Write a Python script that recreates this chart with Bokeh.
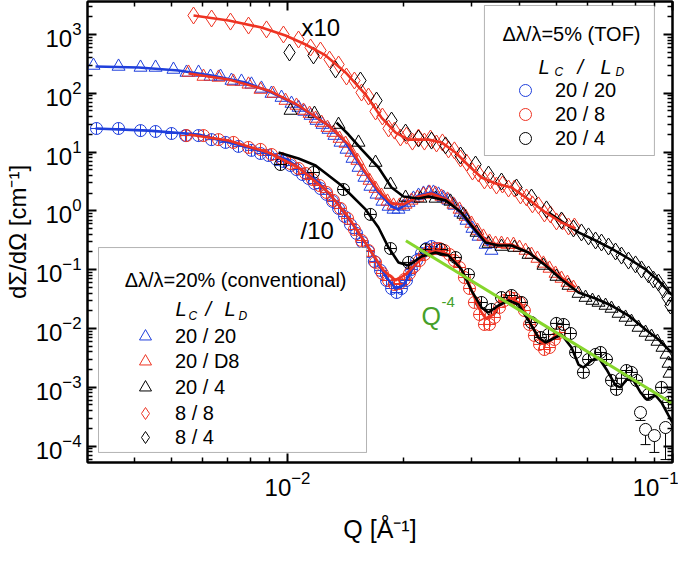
from bokeh.plotting import figure
from bokeh.models import (Range1d, FixedTicker, LogAxis, Legend, LegendItem, BoxAnnotation,
                          Label, ColumnDataSource, Whisker, TeeHead, CustomJSTickFormatter)
from bokeh.embed import file_html
from bokeh.resources import INLINE

# ---------------- data ----------------
# conventional, 8/8 (x10)  red diamonds
conv_8_8_q = [0.00570, 0.00635, 0.00711, 0.00792, 0.00882, 0.00976, 0.01068, 0.01148, 0.01218, 0.01286,
              0.01357, 0.01423, 0.01492, 0.01557, 0.01623, 0.01693, 0.01764, 0.01830, 0.01896, 0.01965,
              0.02037, 0.02111, 0.02189, 0.02268, 0.02352, 0.02438, 0.02526, 0.02619, 0.02713, 0.02814,
              0.02917, 0.03023, 0.03134, 0.03247, 0.03367, 0.03490, 0.03617, 0.03750, 0.03885, 0.04029,
              0.04176, 0.04327, 0.04487, 0.04649, 0.04820, 0.04996, 0.05178, 0.05369, 0.05562]
conv_8_8_i = [2103, 1870, 1660, 1420, 1220, 1000, 822, 601, 534, 375,
              309, 193, 165, 103, 88.1, 49.1, 40.3, 25.2, 23.2, 17.7,
              19.1, 15.1, 17.7, 15.1, 17.0, 14.0, 14.6, 11.1, 10.7, 7.78,
              6.65, 4.67, 4.33, 3.29, 3.29, 2.70, 2.81, 2.40, 2.40, 1.83,
              1.69, 1.29, 1.24, 0.904, 0.870, 0.661, 0.661, 0.543, 0.543]
# conventional, 8/4 (x10)  black diamonds
conv_8_4_q = [0.01012, 0.01168, 0.01333, 0.01547, 0.01703, 0.01863, 0.02026, 0.02189, 0.02366, 0.02573,
              0.02814, 0.03079, 0.03327, 0.03596, 0.03934, 0.04302, 0.04707, 0.05148, 0.05530, 0.05802,
              0.06051, 0.06311, 0.06540, 0.06819, 0.07112, 0.07370, 0.07686, 0.08017, 0.08307, 0.08663,
              0.08923, 0.09196, 0.09472, 0.09702, 0.09880]
conv_8_4_i = [494, 440, 254, 165, 75.3, 34.4, 21.5, 17.0, 15.7, 13.0,
              8.75, 6.15, 4.16, 3.16, 2.50, 1.69, 1.06, 0.687, 0.502, 0.43,
              0.368, 0.314, 0.29, 0.248, 0.204, 0.174, 0.143, 0.123, 0.101, 0.0829,
              0.0681, 0.0605, 0.0460, 0.0336, 0.0246]
# conventional, 20/20  blue triangles
conv_20_20_q = [0.003133, 0.003640, 0.004151, 0.004542, 0.005055, 0.005466, 0.005873, 0.006309, 0.006697, 0.007152,
                0.007593, 0.008061, 0.008557, 0.009086, 0.009647, 0.01024, 0.01068, 0.01106, 0.01148, 0.01190,
                0.01233, 0.01278, 0.01324, 0.01373, 0.01423, 0.01475, 0.01529, 0.01584, 0.01642, 0.01703,
                0.01764, 0.01830, 0.01885, 0.01942, 0.02000, 0.02062, 0.02124, 0.02189, 0.02255, 0.02324,
                0.02394, 0.02467, 0.02541, 0.02619, 0.02713, 0.02814, 0.02917, 0.03023, 0.03134, 0.03269,
                0.03387]
conv_20_20_i = [297, 286, 275, 275, 254, 226, 226, 193, 193, 165,
                159, 142, 121, 99.1, 84.7, 67.1, 57.4, 49.1, 41.9, 34.4,
                29.4, 24.2, 19.1, 14.6, 11.1, 7.78, 5.47, 3.70, 2.60, 1.91,
                1.45, 1.19, 1.06, 1.06, 1.19, 1.39, 1.63, 1.83, 1.98, 2.06,
                2.06, 1.91, 1.69, 1.51, 1.24, 0.94, 0.687, 0.502, 0.368, 0.268,
                0.212]
# conventional, 20/D8  red triangles
conv_20_D8_q = [0.005532, 0.006049, 0.006618, 0.007237, 0.007918, 0.008507, 0.009193, 0.00988, 0.01055, 0.01100,
                0.01141, 0.01183, 0.01226, 0.01270, 0.01316, 0.01365, 0.01415, 0.01466, 0.01519, 0.01575,
                0.01633, 0.01693, 0.01754, 0.01818, 0.01885, 0.01954, 0.02026, 0.02099, 0.02175, 0.02255,
                0.02338, 0.02424, 0.02511, 0.02603, 0.02698, 0.02798, 0.02901, 0.03005, 0.03114, 0.03228,
                0.03347, 0.03470, 0.03596, 0.03726, 0.03863, 0.04005, 0.04152, 0.04302, 0.04458, 0.04622,
                0.04792, 0.04968, 0.05148, 0.05335, 0.05530]
conv_20_D8_i = [226, 193, 186, 159, 142, 116, 99.1, 75.3, 62.1, 51.0,
                45.3, 37.3, 31.8, 26.1, 21.5, 17.0, 14.0, 9.84, 7.19, 4.67,
                3.29, 2.40, 1.83, 1.45, 1.24, 1.24, 1.29, 1.51, 1.69, 1.91,
                2.06, 1.98, 1.76, 1.57, 1.29, 1.06, 0.804, 0.611, 0.464, 0.368,
                0.302, 0.279, 0.279, 0.268, 0.268, 0.238, 0.212, 0.181, 0.155, 0.128,
                0.105, 0.0862, 0.0709, 0.0605, 0.0497]
# conventional, 20/4  black triangles
conv_20_4_q = [0.01018, 0.01175, 0.01357, 0.01529, 0.01693, 0.01852, 0.02026, 0.02215, 0.02424, 0.02650,
               0.02864, 0.03097, 0.03327, 0.03596, 0.03885, 0.04226, 0.04622, 0.04996, 0.05369, 0.05699,
               0.05944, 0.06196, 0.06424, 0.06700, 0.06942, 0.07240, 0.07551, 0.07824, 0.08160, 0.08511,
               0.08819, 0.09140, 0.09417, 0.09647, 0.09763, 0.09822]
conv_20_4_i = [51.0, 45.3, 29.4, 14.6, 6.65, 2.81, 1.69, 1.63, 1.63, 1.45,
               0.870, 0.43, 0.279, 0.248, 0.238, 0.181, 0.118, 0.0766, 0.0538, 0.0393,
               0.0336, 0.0299, 0.0277, 0.0246, 0.0219, 0.0180, 0.0154, 0.0131, 0.0104, 0.00855,
               0.00731, 0.00601, 0.00475, 0.00362, 0.00254, 0.00172]
# TOF, 20/20 (/10)  blue circles
tof_20_20_q = [0.003190, 0.003640, 0.004151, 0.004542, 0.004996, 0.005435, 0.005873, 0.006346, 0.006903, 0.007459,
               0.008061, 0.008507, 0.008925, 0.009362, 0.00976, 0.01018, 0.01055, 0.01094, 0.01134, 0.01175,
               0.01218, 0.01263, 0.01309, 0.01357, 0.01406, 0.01457, 0.01511, 0.01566, 0.01623, 0.01681,
               0.01744, 0.01808, 0.01863, 0.01920, 0.01977, 0.02037, 0.02099, 0.02163, 0.02228, 0.02296,
               0.02366, 0.02438]
tof_20_20_i = [25.2, 25.2, 23.2, 22.4, 20.7, 19.1, 19.1, 16.3, 14.6, 12.5,
               10.7, 9.47, 8.75, 7.48, 6.92, 5.91, 5.05, 4.16, 3.56, 2.92,
               2.40, 1.91, 1.45, 1.10, 0.804, 0.587, 0.414, 0.29, 0.204, 0.138,
               0.0972, 0.0655, 0.0479, 0.0409, 0.0479, 0.0655, 0.101, 0.143, 0.189, 0.229,
               0.248, 0.229]
# TOF, 20/8 (/10)  red circles
tof_20_8_q = [0.005466, 0.006049, 0.006618, 0.007237, 0.007918, 0.008507, 0.009086, 0.009647, 0.01018, 0.01068,
              0.01114, 0.01161, 0.01211, 0.01263, 0.01316, 0.01373, 0.01432, 0.01492, 0.01557, 0.01623,
              0.01693, 0.01764, 0.01830, 0.01896, 0.01954, 0.02012, 0.02074, 0.02136, 0.02202, 0.02268,
              0.02338, 0.02408, 0.02482, 0.02556, 0.02635, 0.02713, 0.02798, 0.02881, 0.02970, 0.03058,
              0.03153, 0.03247, 0.03347, 0.03447, 0.03553, 0.03659, 0.03773, 0.03885, 0.04005, 0.04124,
              0.04251, 0.04378, 0.04514, 0.04649, 0.04792, 0.04934, 0.05087]
tof_20_8_i = [19.1, 19.1, 16.3, 14.6, 12.0, 11.1, 9.10, 7.78, 6.40, 5.26,
              4.33, 3.42, 2.70, 2.06, 1.51, 1.10, 0.744, 0.483, 0.314, 0.212,
              0.133, 0.0862, 0.0655, 0.0560, 0.0582, 0.0681, 0.0862, 0.114, 0.143, 0.181,
              0.212, 0.229, 0.229, 0.212, 0.181, 0.143, 0.109, 0.0737, 0.0479, 0.0277,
              0.0173, 0.0117, 0.0117, 0.0154, 0.0228, 0.0299, 0.0336, 0.0324, 0.0277, 0.0202,
              0.0117, 0.00760, 0.00535, 0.00439, 0.00475, 0.00650, 0.00855]
# TOF, 20/4 (/10)  black circles
tof_20_4_q = [0.00959, 0.01168, 0.01398, 0.01642, 0.01852, 0.02062, 0.02283, 0.02511, 0.02732, 0.02952,
              0.03190, 0.03387, 0.03596, 0.03818, 0.04053, 0.04302, 0.04541, 0.04763, 0.04996, 0.05209,
              0.05433, 0.05600, 0.05870, 0.06051, 0.06311, 0.06501, 0.06739, 0.06942, 0.07153, 0.07370,
              0.07595, 0.07824, 0.08063, 0.08663, 0.09361, 0.09763]
tof_20_4_i = [6.15, 4.50, 2.31, 0.870, 0.229, 0.133, 0.220, 0.220, 0.161, 0.0829,
              0.0277, 0.0211, 0.0336, 0.0364, 0.0277, 0.01265, 0.00703, 0.00791, 0.0122, 0.0117,
              0.00822, 0.00391, 0.00179, 0.00297, 0.00362, 0.00391, 0.00297, 0.00131, 0.00092, 0.00142,
              0.00193, 0.00179, 0.00131, 0.000756, 0.000995, 0.000552]
# TOF, 20/4 last points with large error bars
tof_20_4_err_q = [0.08258, 0.08511, 0.08975, 0.09591]
tof_20_4_err_i = [0.000373, 0.000192, 0.000151, 0.000207]
tof_20_4_err_lo = [0.000273, 0.000106, 0.000078, 0.000059]

# model fits (lines)
fit_8_8_q = [0.00570, 0.00703, 0.00856, 0.00988, 0.01114, 0.01256, 0.01415, 0.01595, 0.01754, 0.01909, 0.02062,
             0.02324, 0.02511, 0.02732, 0.02952, 0.03190, 0.03470, 0.03818, 0.04226, 0.04680, 0.05148, 0.05600]
fit_8_8_i = [2103, 1730, 1315, 962, 676, 440, 226, 95.3, 38.7, 21.5, 16.3,
             16.3, 14.6, 9.84, 5.91, 3.70, 2.92, 2.50, 1.57, 0.94, 0.635, 0.502]
fit_8_4_q = [0.04763, 0.05209, 0.05699, 0.06311, 0.06942, 0.07686, 0.08511, 0.09196, 0.0994]
fit_8_4_i = [0.94, 0.635, 0.43, 0.314, 0.229, 0.155, 0.101, 0.0655, 0.0378]
fit_c20_20_q = [0.003172, 0.004102, 0.005211, 0.00635, 0.00778, 0.00909, 0.01049, 0.01154, 0.01278, 0.01415, 0.01557,
                0.01723, 0.01863, 0.01942, 0.02062, 0.02189, 0.02366, 0.02541, 0.02732, 0.02901, 0.03134, 0.03327]
fit_c20_20_i = [286, 275, 244, 201, 153, 103, 64.6, 43.6, 28.3, 14.6, 5.47,
                2.06, 1.19, 1.06, 1.39, 1.83, 2.06, 1.69, 1.14, 0.714, 0.382, 0.258]
fit_c20_D8_q = [0.005532, 0.007026, 0.008925, 0.01068, 0.01278, 0.01440, 0.01575, 0.01723, 0.01863, 0.02000, 0.02189,
                0.02366, 0.02619, 0.02901, 0.03134, 0.03327, 0.03532, 0.03818, 0.04226, 0.04680, 0.05148, 0.05600]
fit_c20_D8_i = [217, 172, 112, 62.1, 28.3, 13.5, 5.05, 2.22, 1.34, 1.29, 1.76,
                1.98, 1.51, 0.773, 0.43, 0.29, 0.268, 0.268, 0.196, 0.123, 0.0737, 0.0497]
fit_c20_4_q = [0.01341, 0.01440, 0.01557, 0.01723, 0.01863, 0.02000, 0.02189, 0.02324, 0.02573, 0.02831,
               0.03005, 0.03269, 0.03532, 0.03818, 0.04226, 0.04680, 0.05148, 0.05699, 0.06311, 0.06942,
               0.07686, 0.08511, 0.09196, 0.09763, 0.0999]
fit_c20_4_i = [31.8, 19.9, 11.1, 5.47, 2.50, 1.76, 1.63, 1.76, 1.51, 0.94,
               0.565, 0.29, 0.258, 0.258, 0.196, 0.118, 0.0681, 0.0409, 0.0324, 0.0246,
               0.0166, 0.00961, 0.0065, 0.00439, 0.0039]
fit_t20_20_q = [0.003172, 0.004355, 0.005873, 0.007918, 0.01, 0.01204, 0.01357, 0.01529, 0.01672, 0.01808,
                0.01909, 0.02000, 0.02099, 0.02189, 0.02283, 0.02394, 0.02497]
fit_t20_20_i = [25.2, 23.2, 19.9, 12.0, 7.48, 3.04, 1.29, 0.43, 0.174, 0.0737,
                0.0479, 0.0538, 0.0972, 0.143, 0.181, 0.204, 0.196]
fit_t20_8_q = [0.005532, 0.007026, 0.008925, 0.01068, 0.01278, 0.01440, 0.01623, 0.01775, 0.01909, 0.02026,
               0.02151, 0.02324, 0.02467, 0.02619, 0.02781, 0.02952, 0.03134, 0.03269, 0.03427, 0.03596,
               0.03818, 0.04053, 0.04302, 0.04568, 0.04763, 0.04996, 0.05148]
fit_t20_8_i = [19.9, 15.7, 9.84, 5.47, 2.06, 0.773, 0.238, 0.0972, 0.0655, 0.0829,
               0.123, 0.196, 0.212, 0.181, 0.123, 0.0605, 0.0228, 0.0148, 0.0173, 0.0277,
               0.0324, 0.0256, 0.0112, 0.00578, 0.00578, 0.00791, 0.00855]
fit_t20_4_q = [0.009476, 0.01068, 0.01183, 0.01381, 0.01595, 0.01723, 0.01830, 0.01942, 0.02062, 0.02228,
               0.02424, 0.02619, 0.02831, 0.03005, 0.03190, 0.03327, 0.03532, 0.03750, 0.03981, 0.04226,
               0.04487, 0.04680, 0.04906, 0.05148, 0.05466, 0.05699, 0.05870, 0.06160, 0.06424, 0.06739,
               0.07112, 0.07327, 0.07595, 0.07917, 0.08258, 0.08560, 0.09035, 0.09361, 0.09763, 0.0999]
fit_t20_4_i = [9.84, 7.78, 5.91, 2.70, 1.06, 0.522, 0.238, 0.133, 0.118, 0.168,
               0.196, 0.174, 0.101, 0.0442, 0.0228, 0.0187, 0.0246, 0.0299, 0.0256, 0.0137,
               0.00703, 0.00578, 0.00676, 0.00791, 0.00475, 0.00244, 0.00217, 0.00286, 0.00321, 0.00201,
               0.00108, 0.000995, 0.00136, 0.00131, 0.000817, 0.000621, 0.000726, 0.000552, 0.000332, 0.000252]
# Porod Q^-4 guide line
porod_q = [0.0203, 0.0995]
porod_i = [0.31, 0.00054]

# tick positions
x_major = [0.01, 0.1]
y_major = [1e-4, 1e-3, 1e-2, 1e-1, 1e0, 1e1, 1e2, 1e3]

# ---------------- styling ----------------
FONT = "Liberation Sans"
BLUE = "#1f3fdc"
RED = "#ee3322"
BLACK = "#000000"
GREEN_LINE = "#86d62c"
GREEN_TEXT = "#45a02a"

p = figure(frame_width=585, frame_height=461, x_axis_type="log", y_axis_type="log",
           x_range=Range1d(0.003023, 0.1), y_range=Range1d(5.26e-5, 3640),
           output_backend="svg", toolbar_location=None,
           min_border_left=81, min_border_right=6, min_border_top=1, min_border_bottom=80)
p.xgrid.visible = False
p.ygrid.visible = False
p.outline_line_color = "black"
p.outline_line_width = 2

x_minor = [m * 10.0 ** e for e in (-3, -2) for m in range(2, 10)]
y_minor = [m * 10.0 ** e for e in range(-5, 4) for m in range(2, 10)]
xt = FixedTicker(ticks=x_major, minor_ticks=x_minor)
yt = FixedTicker(ticks=y_major, minor_ticks=y_minor)


def style_axis(ax, labels=True):
    ax.major_tick_in = 9
    ax.major_tick_out = 0
    ax.minor_tick_in = 5
    ax.minor_tick_out = 0
    ax.axis_line_width = 2
    ax.major_tick_line_width = 2
    ax.minor_tick_line_width = 1.5
    if labels:
        ax.major_label_text_font = FONT
        ax.major_label_text_font_size = "24px"
        ax.major_label_text_color = "black"
        ax.axis_label_text_font = FONT
        ax.axis_label_text_font_size = "24px"
        ax.axis_label_text_font_style = "normal"
        ax.axis_label_text_color = "black"
    else:
        ax.major_label_text_font_size = "0px"
        ax.major_label_standoff = 0
        ax.formatter = CustomJSTickFormatter(code="return ''")


bx = p.xaxis[0]
bx.ticker = xt
bx.axis_label = "Q [Å⁻¹]"
style_axis(bx)
bx.axis_label_text_font_size = "25px"
bx.major_label_standoff = 8
bx.axis_label_standoff = 16

ly = p.yaxis[0]
ly.ticker = yt
ly.axis_label = "dΣ/dΩ [cm⁻¹]"
style_axis(ly)
ly.major_label_standoff = 6
ly.axis_label_standoff = 2

top_ax = LogAxis(ticker=xt)
style_axis(top_ax, labels=False)
p.add_layout(top_ax, "above")
right_ax = LogAxis(ticker=yt)
style_axis(right_ax, labels=False)
p.add_layout(right_ax, "right")

# ---------------- markers ----------------
MK = dict(fill_color=None, line_width=1)
r_d88 = p.scatter(conv_8_8_q, conv_8_8_i, marker="diamond", size=17, line_color=RED, **MK)
r_d84 = p.scatter(conv_8_4_q, conv_8_4_i, marker="diamond", size=17, line_color=BLACK, **MK)
r_t2020 = p.scatter(conv_20_20_q, conv_20_20_i, marker="triangle", size=13, line_color=BLUE, **MK)
r_t20D8 = p.scatter(conv_20_D8_q, conv_20_D8_i, marker="triangle", size=13, line_color=RED, **MK)
r_t204 = p.scatter(conv_20_4_q, conv_20_4_i, marker="triangle", size=13, line_color=BLACK, **MK)

r_c2020 = p.scatter(tof_20_20_q, tof_20_20_i, marker="circle", size=12, line_color=BLUE, **MK)
p.scatter(tof_20_20_q, tof_20_20_i, marker="cross", size=12, line_color=BLUE, line_width=1)
r_c208 = p.scatter(tof_20_8_q, tof_20_8_i, marker="circle", size=12, line_color=RED, **MK)
p.scatter(tof_20_8_q, tof_20_8_i, marker="cross", size=12, line_color=RED, line_width=1)
r_c204 = p.scatter(tof_20_4_q, tof_20_4_i, marker="circle", size=12, line_color=BLACK, **MK)
p.scatter(tof_20_4_q, tof_20_4_i, marker="cross", size=12, line_color=BLACK, line_width=1)

err_src = ColumnDataSource(dict(q=tof_20_4_err_q, i=tof_20_4_err_i, lo=tof_20_4_err_lo))
p.add_layout(Whisker(source=err_src, base="q", upper="i", lower="lo", dimension="height",
                     line_color=BLACK, line_width=1, upper_head=None,
                     lower_head=TeeHead(size=10, line_color=BLACK, line_width=1)))
p.scatter("q", "i", source=err_src, marker="circle", size=12,
          line_color=BLACK, fill_color="white", line_width=1)

# ---------------- fit lines ----------------
LW = 2.6
p.line(fit_8_4_q, fit_8_4_i, line_color=BLACK, line_width=LW)
p.line(fit_8_8_q, fit_8_8_i, line_color=RED, line_width=LW)
p.line(fit_c20_20_q, fit_c20_20_i, line_color=BLUE, line_width=LW)
p.line(fit_c20_D8_q, fit_c20_D8_i, line_color=RED, line_width=LW)
p.line(fit_c20_4_q, fit_c20_4_i, line_color=BLACK, line_width=LW)
p.line(fit_t20_20_q, fit_t20_20_i, line_color=BLUE, line_width=LW)
p.line(fit_t20_8_q, fit_t20_8_i, line_color=RED, line_width=LW)
p.line(fit_t20_4_q, fit_t20_4_i, line_color=BLACK, line_width=LW)
p.line(porod_q, porod_i, line_color=GREEN_LINE, line_width=3)

# ---------------- annotations ----------------
def lab(x, y, text, size="24px", color="black", style="normal", align="left", baseline="alphabetic"):
    p.add_layout(Label(x=x, y=y, text=text, text_font=FONT, text_font_size=size,
                       text_color=color, text_font_style=style, text_align=align,
                       text_baseline=baseline))

lab(0.01087, 1315, "x10")
lab(0.01081, 0.464, "/10")
lab(0.02228, 0.0166, "Q", size="25px", color=GREEN_TEXT)
lab(0.02511, 0.0277, "-4", size="15px", color=GREEN_TEXT)

# legend boxes
p.add_layout(BoxAnnotation(left=0.03247, right=0.08975, bottom=8.75, top=3113,
                           fill_color="white", fill_alpha=1, line_color="black", line_width=1))
p.add_layout(BoxAnnotation(left=0.003229, right=0.01604, bottom=7.8e-5, top=0.238,
                           fill_color="white", fill_alpha=1, line_color="black", line_width=1))

# TOF legend header
lab(0.05466, 1000, "Δλ/λ=5% (TOF)", size="20px", align="center", baseline="middle")
lab(0.04487, 275, "L", size="20px", style="italic")
lab(0.04934, 226, "C", size="12px", style="italic")
lab(0.05665, 275, "/", size="20px", style="italic")
lab(0.06501, 275, "L", size="20px", style="italic")
lab(0.07112, 226, "D", size="12px", style="italic")
# conventional legend header
lab(0.00733, 0.0681, "Δλ/λ=20% (conventional)", size="20px", align="center", baseline="middle")
lab(0.005119, 0.0211, "L", size="20px", style="italic")
lab(0.005532, 0.0166, "C", size="12px", style="italic")
lab(0.006126, 0.0211, "/", size="20px", style="italic")
lab(0.006856, 0.0211, "L", size="20px", style="italic")
lab(0.007459, 0.0166, "D", size="12px", style="italic")

# legend entries (one Legend per entry for exact row spacing)
LEG = dict(padding=0, spacing=0, glyph_width=30, glyph_height=30, label_height=30, label_standoff=15,
           label_text_font=FONT, label_text_font_size="20px", label_text_color="black",
           border_line_color=None, background_fill_alpha=0)
tof_entries = [("20 / 20", r_c2020, 357), ("20 / 8", r_c208, 333), ("20 / 4", r_c204, 309)]
for text, rend, vy in tof_entries:
    p.add_layout(Legend(items=[LegendItem(label=text, renderers=[rend])], location=(423, vy), **LEG))
conv_entries = [("20 / 20", r_t2020, 111), ("20 / D8", r_t20D8, 86), ("20 / 4", r_t204, 60),
                ("8 / 8", r_d88, 34), ("8 / 4", r_d84, 10)]
for text, rend, vy in conv_entries:
    p.add_layout(Legend(items=[LegendItem(label=text, renderers=[rend])], location=(43, vy), **LEG))

open("out.html", "w").write(file_html(p, INLINE))
